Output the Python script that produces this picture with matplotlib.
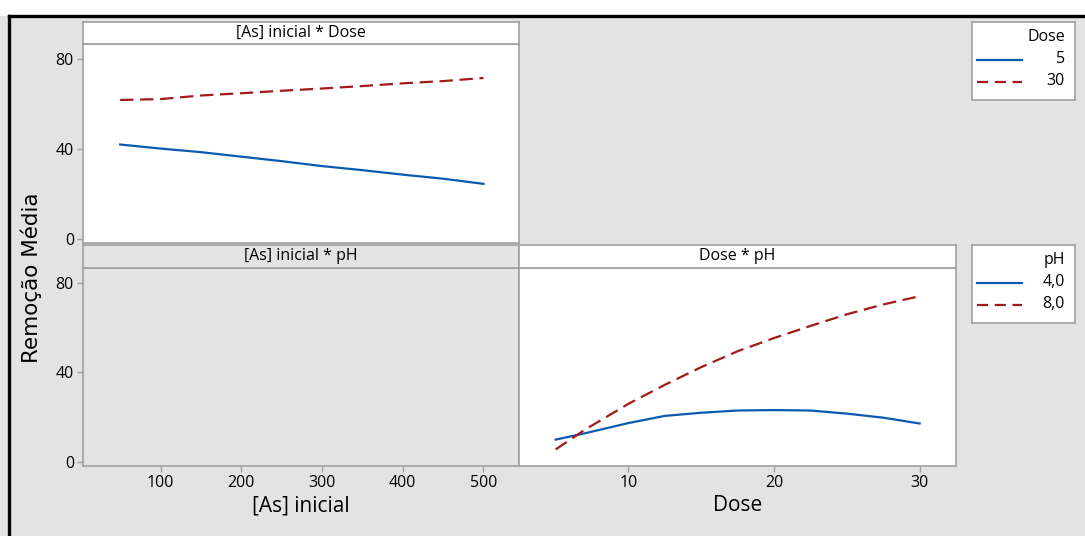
import matplotlib
matplotlib.use("Agg")
import matplotlib.pyplot as plt
from matplotlib.lines import Line2D
from matplotlib.patches import Rectangle

plt.rcParams['font.family'] = ['Open Sans', 'DejaVu Sans']

# Interaction means: Remoção Média
as_inicial = [50, 100, 150, 200, 250, 300, 350, 400, 450, 500]
rem_dose5 = [42.0, 40.2, 38.6, 36.6, 34.6, 32.4, 30.6, 28.6, 26.8, 24.5]
rem_dose30 = [61.8, 62.2, 63.8, 64.8, 65.9, 66.9, 68.0, 69.2, 70.2, 71.6]

dose = [5, 7, 10, 12.5, 15, 17.5, 20, 22.5, 25, 27.5, 30]
rem_ph4 = [10.0, 12.8, 17.4, 20.6, 22.0, 23.0, 23.2, 23.0, 21.6, 19.8, 17.2]
rem_ph8 = [5.6, 14.4, 26.0, 34.5, 42.4, 49.5, 55.4, 60.8, 66.0, 70.4, 74.1]

dose_levels = ['5', '30']
ph_levels = ['4,0', '8,0']

BLUE = '#0a5bb0'
RED = '#a31a1a'
BG = '#e3e3e3'
EDGE = '#a0a0a0'

W, H = 1085, 536
fig = plt.figure(figsize=(W / 100, H / 100), dpi=100)
fig.patch.set_facecolor(BG)


def frac(x0, y0, x1, y1):
    return [x0 / W, 1 - y1 / H, (x1 - x0) / W, (y1 - y0) / H]


# white band on top and black frame
fig.add_artist(Rectangle((0, 1 - 16 / H), 1, 16 / H, transform=fig.transFigure,
                         facecolor='white', edgecolor='none', zorder=0))
fig.add_artist(Line2D([9 / W, 1], [1 - 16 / H, 1 - 16 / H], transform=fig.transFigure,
                      color='black', lw=2.4))
fig.add_artist(Line2D([9 / W, 9 / W], [0, 1 - 16 / H], transform=fig.transFigure,
                      color='black', lw=2.4))

YLIM = (-1.8, 86.7)
XLIM_AS = (4, 544)
XLIM_DOSE = (2.48, 32.5)
TICKFS = 11.5
LX0, LX1, RX1 = 83, 519, 956


def style(ax, face):
    ax.set_facecolor(face)
    for s in ax.spines.values():
        s.set_color(EDGE)
        s.set_linewidth(1.2)
    ax.tick_params(colors=EDGE, labelcolor='black', labelsize=TICKFS, length=4, width=1,
                   pad=2.5)


def strip(x0, y0, x1, y1, text, face):
    sa = fig.add_axes(frac(x0, y0, x1, y1))
    sa.set_facecolor(face)
    sa.set_xticks([])
    sa.set_yticks([])
    for s in sa.spines.values():
        s.set_color(EDGE)
        s.set_linewidth(1.2)
    sa.text(0.5, 0.5, text, ha='center', va='center', fontsize=11.5, transform=sa.transAxes)
    return sa


# Top-left: [As] inicial * Dose
ax1 = fig.add_axes(frac(LX0, 44, LX1, 243))
style(ax1, 'white')
ax1.plot(as_inicial, rem_dose5, color=BLUE, lw=1.6)
ax1.plot(as_inicial, rem_dose30, color=RED, lw=1.6, dashes=(6, 3))
ax1.set_xlim(*XLIM_AS)
ax1.set_ylim(*YLIM)
ax1.set_yticks([0, 40, 80])
ax1.set_xticks([])
strip(LX0, 22, LX1, 44, '[As] inicial * Dose', 'white')

# Bottom-left: [As] inicial * pH (empty)
ax3 = fig.add_axes(frac(LX0, 268, LX1, 466))
style(ax3, BG)
ax3.set_xlim(*XLIM_AS)
ax3.set_ylim(*YLIM)
ax3.set_yticks([0, 40, 80])
ax3.set_xticks([100, 200, 300, 400, 500])
ax3.set_xlabel('[As] inicial', fontsize=15, labelpad=3)
strip(LX0, 245, LX1, 268, '[As] inicial * pH', BG)

# Bottom-right: Dose * pH
ax4 = fig.add_axes(frac(LX1, 268, RX1, 466))
style(ax4, 'white')
ax4.plot(dose, rem_ph4, color=BLUE, lw=1.6)
ax4.plot(dose, rem_ph8, color=RED, lw=1.6, dashes=(6, 3))
ax4.set_xlim(*XLIM_DOSE)
ax4.set_ylim(*YLIM)
ax4.set_yticks([])
ax4.set_xticks([10, 20, 30])
ax4.set_xlabel('Dose', fontsize=15, labelpad=3)
strip(LX1, 245, RX1, 268, 'Dose * pH', 'white')

fig.text(31 / W, 1 - 278 / H, 'Remoção Média', rotation=90, ha='center', va='center',
         fontsize=15.5, family=['DejaVu Sans'])


def legend_box(x0, y0, x1, y1, title, labels):
    la = fig.add_axes(frac(x0, y0, x1, y1))
    la.set_facecolor('white')
    la.set_xticks([])
    la.set_yticks([])
    for s in la.spines.values():
        s.set_color(EDGE)
        s.set_linewidth(1.2)
    la.set_xlim(0, x1 - x0)
    la.set_ylim(y1 - y0, 0)
    la.text(x1 - x0 - 10, 15, title, ha='right', va='center', fontsize=11.5)
    for i, (lab, col, ls) in enumerate(zip(labels, [BLUE, RED], ['-', '--'])):
        yy = 38 + i * 22
        la.add_line(Line2D([5, 50], [yy, yy], color=col, lw=1.6,
                           linestyle=ls, dashes=(5, 3) if ls == '--' else (None, None)))
        la.text(x1 - x0 - 10, yy - 1, lab, ha='right', va='center', fontsize=11.5)


legend_box(972, 22, 1075, 100, 'Dose', dose_levels)
legend_box(972, 245, 1075, 323, 'pH', ph_levels)

fig.savefig('out.png', dpi=100, facecolor=fig.get_facecolor())
